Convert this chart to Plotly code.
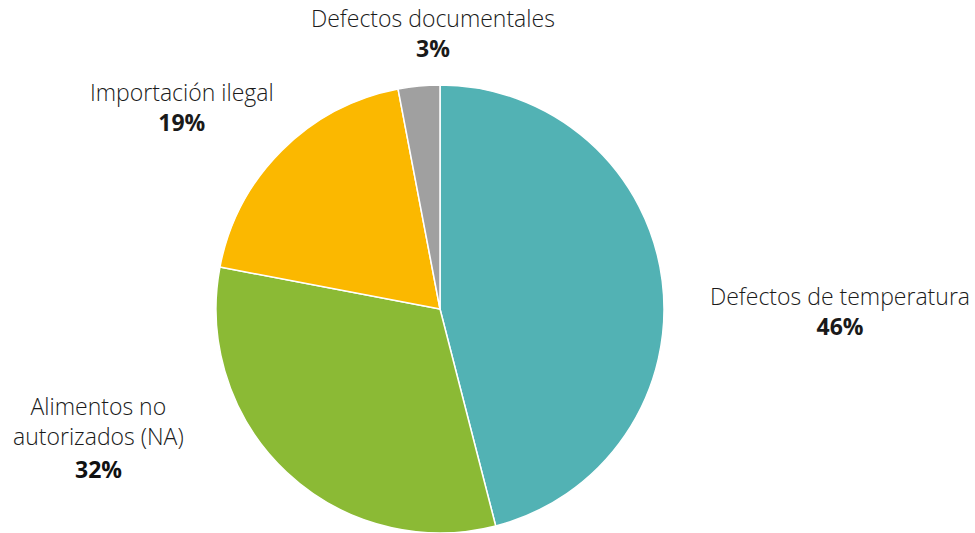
import plotly.graph_objects as go

# Distribution of rejections by cause
categorias = [
    "Defectos de temperatura",
    "Alimentos no autorizados (NA)",
    "Importación ilegal",
    "Defectos documentales",
]
porcentajes = [46, 32, 19, 3]
colores = ["#52B2B4", "#8BBA35", "#FBB800", "#A0A0A0"]

# Label text lines for each slice (drawn outside the pie)
etiquetas = [
    ["Defectos de temperatura"],
    ["Alimentos no", "autorizados (NA)"],
    ["Importación ilegal"],
    ["Defectos documentales"],
]
# whether the percentage sits in its own block below the label
pct_aparte = [False, True, False, False]

W, H = 975, 533
FONT = "'Open Sans', Lato, sans-serif"
SIZE = 23

fig = go.Figure(
    go.Pie(
        labels=categorias,
        values=porcentajes,
        marker=dict(colors=colores, line=dict(color="white", width=1.5)),
        sort=False,
        direction="clockwise",
        rotation=0,
        textinfo="none",
        hoverinfo="label+percent",
        showlegend=False,
        domain=dict(x=[(440 - 224) / W, (440 + 224) / W],
                    y=[(224 - 224) / H, (224 + 224) / H]),
    )
)

# block anchor positions (pixels from top-left): x center, block y center, separate pct y
posiciones = [
    (840, 311, None),
    (98, 421, 469),
    (182, 107, None),
    (433, 33, None),
]


def linea_normal(t):
    return f"<span style='font-weight:300'>{t}</span>"


anns = []
for lineas, pct, aparte, (x, yc, yp) in zip(etiquetas, porcentajes, pct_aparte, posiciones):
    partes = [linea_normal(l) for l in lineas]
    if not aparte:
        partes.append(f"<b>{pct}%</b>")
    anns.append(dict(x=x / W, y=1 - yc / H, xref="paper", yref="paper",
                     text="<br>".join(partes), showarrow=False,
                     xanchor="center", yanchor="middle", align="center",
                     font=dict(family=FONT, size=SIZE, color="#1a1a1a",
                               weight=300)))
    if aparte:
        anns.append(dict(x=x / W, y=1 - yp / H, xref="paper", yref="paper",
                         text=f"<b>{pct}%</b>", showarrow=False,
                         xanchor="center", yanchor="middle",
                         font=dict(family=FONT, size=SIZE, color="#111111")))

fig.update_layout(
    width=W, height=H,
    margin=dict(l=0, r=0, t=0, b=0),
    paper_bgcolor="white",
    plot_bgcolor="white",
    annotations=anns,
)

fig.write_html("out.html")
